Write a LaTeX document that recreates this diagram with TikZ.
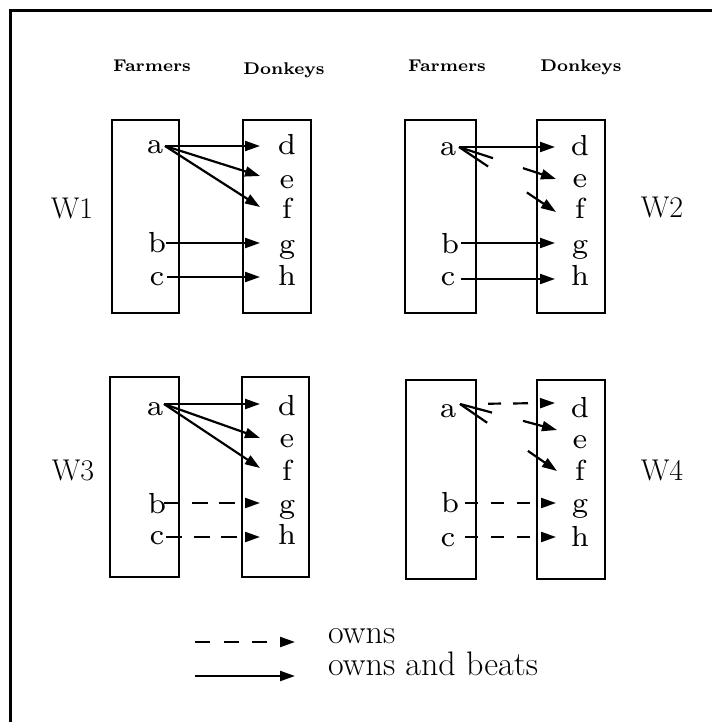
\documentclass[tikz,border=0pt]{standalone}
\usepackage{fontspec}
\newfontfamily\lmseven{lmroman7-regular.otf}
\newfontfamily\lmsevenbf{lmroman7-bold.otf}
\usetikzlibrary{arrows.meta,calc}
\tikzset{
  box/.style={draw, line width=2pt, inner sep=0pt},
  lbl/.style={anchor=base, inner sep=0pt, font=\lmseven\fontsize{29}{31}\selectfont},
  wl/.style={anchor=base, inner sep=0pt, font=\fontsize{30}{32}\selectfont},
  lg/.style={anchor=base west, inner sep=0pt, font=\fontsize{34}{36}\selectfont},
  hd/.style={anchor=base, inner sep=0pt, font=\lmsevenbf\fontsize{17}{19}\selectfont},
  tip/.style={-{Triangle[length=15pt,width=10pt]}},
  beat/.style={line width=2.2pt, tip},
  stub/.style={line width=2.2pt},
  ownA/.style={beat, dash pattern=on 16pt off 11.5pt},
  ownB/.style={beat, dash pattern=on 13pt off 13pt},
  ownL/.style={beat, dash pattern=on 15pt off 13.5pt},
  ownD/.style={beat, dash pattern=on 0pt off 28pt on 13pt off 12pt on 15pt off 40pt},
  frame/.style={line width=3pt},
}
\begin{document}
\begin{tikzpicture}[x=1pt,y=-1pt]
\useasboundingbox (0,0) rectangle (712,722);
\draw[frame] (10.5,722) -- (10.5,10.5) -- (712,10.5);

% headers
\node[hd] (h1f) at (152,72) {Farmers};
\node[hd] (h1d) at (284,75) {Donkeys};
\node[hd] (h2f) at (447,72) {Farmers};
\node[hd] (h2d) at (581,72) {Donkeys};

% boxes
\node[box, minimum width=67pt, minimum height=193pt] (F1) at (145.5,216.5) {};
\node[box, minimum width=68pt, minimum height=193pt] (D1) at (277,216.5) {};
\node[box, minimum width=71pt, minimum height=193pt] (F2) at (440.5,216.5) {};
\node[box, minimum width=68pt, minimum height=193pt] (D2) at (571,216.5) {};
\node[box, minimum width=69pt, minimum height=200pt] (F3) at (144.5,477) {};
\node[box, minimum width=67pt, minimum height=200pt] (D3) at (275.5,477) {};
\node[box, minimum width=70pt, minimum height=199pt] (F4) at (441,479.5) {};
\node[box, minimum width=68pt, minimum height=199pt] (D4) at (571,479.5) {};

% world labels
\node[wl] (W1) at (72,218) {W1};
\node[wl] (W2) at (662,217) {W2};
\node[wl] (W3) at (73,480) {W3};
\node[wl] (W4) at (662,480) {W4};

% W1 letters
\node[lbl] (a1) at (155,154) {a};
\node[lbl] (b1) at (157,252) {b};
\node[lbl] (c1) at (157,285) {c};
\node[lbl] (d1) at (287,155) {d};
\node[lbl] (e1) at (287,188) {e};
\node[lbl] (f1) at (287,218) {f};
\node[lbl] (g1) at (287,253) {g};
\node[lbl] (hh1) at (287,285) {h};
% W2 letters
\node[lbl] (a2) at (448,156) {a};
\node[lbl] (b2) at (450,253) {b};
\node[lbl] (c2) at (448,285) {c};
\node[lbl] (d2) at (580,156) {d};
\node[lbl] (e2) at (580,187) {e};
\node[lbl] (f2) at (580,218) {f};
\node[lbl] (g2) at (580,253) {g};
\node[lbl] (hh2) at (580,285) {h};
% W3 letters
\node[lbl] (a3) at (155,415) {a};
\node[lbl] (b3) at (157,513) {b};
\node[lbl] (c3) at (157,544) {c};
\node[lbl] (d3) at (287,415) {d};
\node[lbl] (e3) at (287,447) {e};
\node[lbl] (f3) at (287,480) {f};
\node[lbl] (g3) at (287,513) {g};
\node[lbl] (hh3) at (287,544) {h};
% W4 letters
\node[lbl] (a4) at (448,417) {a};
\node[lbl] (b4) at (450,512) {b};
\node[lbl] (c4) at (448,546) {c};
\node[lbl] (d4) at (580,417) {d};
\node[lbl] (e4) at (580,448) {e};
\node[lbl] (f4) at (580,480) {f};
\node[lbl] (g4) at (580,512) {g};
\node[lbl] (hh4) at (580,546) {h};

% connector end points
\coordinate (a1o) at (165,146);
\coordinate (b1o) at (166,243);
\coordinate (c1o) at (167,277);
\coordinate (d1i) at (260,146);
\coordinate (e1i) at (260,176);
\coordinate (f1i) at (260,207);
\coordinate (g1i) at (260,243);
\coordinate (h1i) at (260,277);

\coordinate (a2o) at (459,147);
\coordinate (b2o) at (461,243);
\coordinate (c2o) at (461,279);
\coordinate (d2i) at (555,147);
\coordinate (e2i) at (556,179);
\coordinate (f2i) at (556,212);
\coordinate (g2i) at (555,243);
\coordinate (h2i) at (555,279);

\coordinate (a3o) at (164,404);
\coordinate (b3o) at (164,503);
\coordinate (c3o) at (166,537);
\coordinate (d3i) at (260,404);
\coordinate (e3i) at (260,438);
\coordinate (f3i) at (260,468);
\coordinate (g3i) at (260,503);
\coordinate (h3i) at (260,537);

\coordinate (a4o) at (460,404);
\coordinate (b4o) at (465,503);
\coordinate (c4o) at (465,537);
\coordinate (d4i) at (555,403);
\coordinate (e4i) at (557,430);
\coordinate (f4i) at (557,471);
\coordinate (g4i) at (556,503);
\coordinate (h4i) at (556,537);

% W1
\draw[beat] (a1o) -- (d1i);
\draw[beat] (a1o) -- (e1i);
\draw[beat] (a1o) -- (f1i);
\draw[beat] (b1o) -- (g1i);
\draw[beat] (c1o) -- (h1i);

% W2
\draw[beat] (a2o) -- (d2i);
\draw[stub] (a2o) -- ($(a2o)!0.35!(e2i)$);
\draw[beat] ($(a2o)!0.66!(e2i)$) -- (e2i);
\draw[stub] (a2o) -- ($(a2o)!0.30!(f2i)$);
\draw[beat] ($(a2o)!0.70!(f2i)$) -- (f2i);
\draw[beat] (b2o) -- (g2i);
\draw[beat] (c2o) -- (h2i);

% W3
\draw[beat] (a3o) -- (d3i);
\draw[beat] (a3o) -- (e3i);
\draw[beat] (a3o) -- (f3i);
\draw[ownA] (b3o) -- (g3i);
\draw[ownA] (c3o) -- (h3i);

% W4
\draw[ownD] (a4o) -- (d4i);
\draw[stub] (a4o) -- ($(a4o)!0.33!(e4i)$);
\draw[beat] ($(a4o)!0.65!(e4i)$) -- (e4i);
\draw[stub] (a4o) -- ($(a4o)!0.28!(f4i)$);
\draw[beat] ($(a4o)!0.70!(f4i)$) -- (f4i);
\draw[ownB] (b4o) -- (g4i);
\draw[ownB] (c4o) -- (h4i);

% legend
\coordinate (l1s) at (195,642);
\coordinate (l1e) at (295,642);
\coordinate (l2s) at (195,676);
\coordinate (l2e) at (295,676);
\draw[ownL] (l1s) -- (l1e);
\draw[beat] (l2s) -- (l2e);
\node[lg] (t1) at (328,643) {owns};
\node[lg] (t2) at (328,675) {owns and beats};
\end{tikzpicture}
\end{document}
